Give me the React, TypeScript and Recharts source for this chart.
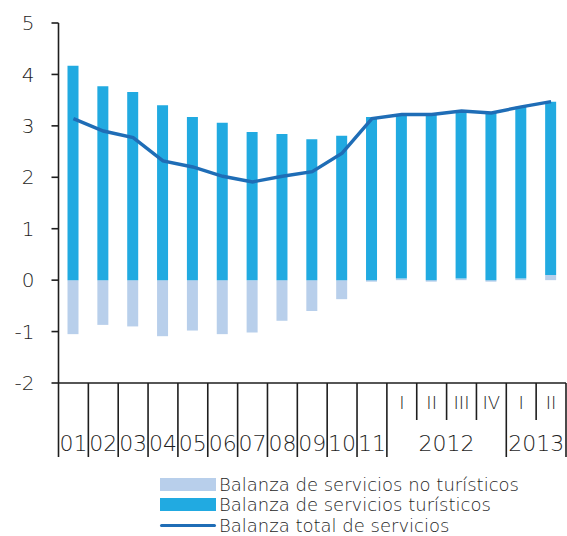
import React from 'react';
import { ComposedChart, Bar, Line, XAxis, YAxis } from 'recharts';

const periods = ['01', '02', '03', '04', '05', '06', '07', '08', '09', '10', '11', '2012 I', '2012 II', '2012 III', '2012 IV', '2013 I', '2013 II'];
const quarterLabels = ['', '', '', '', '', '', '', '', '', '', '', 'I', 'II', 'III', 'IV', 'I', 'II'];
const yearLabels = ['01', '02', '03', '04', '05', '06', '07', '08', '09', '10', '11', '2012', '2012', '2012', '2012', '2013', '2013'];
const turisticos = [4.17, 3.77, 3.66, 3.40, 3.17, 3.06, 2.88, 2.84, 2.74, 2.81, 3.17, 3.19, 3.24, 3.26, 3.27, 3.34, 3.37];
const noTuristicos = [-1.05, -0.87, -0.90, -1.09, -0.98, -1.05, -1.02, -0.79, -0.60, -0.37, -0.03, 0.03, -0.03, 0.03, -0.03, 0.03, 0.10];
const total = [3.14, 2.90, 2.77, 2.32, 2.20, 2.02, 1.91, 2.02, 2.11, 2.47, 3.14, 3.22, 3.22, 3.29, 3.25, 3.37, 3.47];
const yTicks = [-2, -1, 0, 1, 2, 3, 4, 5];

const W = 567;
const H = 536;
const X_AXIS_H = 153;
const MARGIN = { top: 23, right: 1, left: 0, bottom: 0 };
const Y_AXIS_W = 58.5;
const AXIS_Y = H - X_AXIS_H;
const BAND = (W - MARGIN.left - MARGIN.right - Y_AXIS_W) / periods.length;
const FONT = '"DejaVu Sans", sans-serif';
const INK = '#1e1e1e';

const C_NO = '#b8cfeb';
const C_TUR = '#21aae1';
const C_TOTAL = '#1f6db6';

const data = periods.map((p, i) => ({
  period: p,
  noTur: noTuristicos[i],
  tur: turisticos[i],
  total: total[i],
}));

const XTick = (props: any) => {
  const { x, index } = props;
  const left = x - BAND / 2;
  const isYearStart = index === 0 || yearLabels[index] !== yearLabels[index - 1];
  const longLen = 74;
  const shortLen = 37;
  let groupLen = 0;
  if (isYearStart) {
    while (index + groupLen < yearLabels.length && yearLabels[index + groupLen] === yearLabels[index]) groupLen++;
  }
  const last = index === periods.length - 1;
  return (
    <g>
      <line x1={left} x2={left} y1={AXIS_Y} y2={AXIS_Y + (isYearStart ? longLen : shortLen)} stroke={INK} strokeWidth={1.6} />
      {last && <line x1={left + BAND} x2={left + BAND} y1={AXIS_Y} y2={AXIS_Y + longLen} stroke={INK} strokeWidth={1.6} />}
      {quarterLabels[index] && (
        <text x={x} y={AXIS_Y + 26} textAnchor="middle" fontSize={18} fill={INK} fontFamily={FONT} fontWeight={200}>
          {quarterLabels[index]}
        </text>
      )}
      {isYearStart && (
        <text x={left + (groupLen * BAND) / 2} y={AXIS_Y + 68} textAnchor="middle" fontSize={22} fill={INK} fontFamily={FONT} fontWeight={200}>
          {yearLabels[index]}
        </text>
      )}
    </g>
  );
};

const legendItems = [
  { label: 'Balanza de servicios no turísticos', color: C_NO, kind: 'box' },
  { label: 'Balanza de servicios turísticos', color: C_TUR, kind: 'box' },
  { label: 'Balanza total de servicios', color: C_TOTAL, kind: 'line' },
];

export default function App() {
  return (
    <div style={{ position: 'absolute', left: 0, top: 0, width: W, height: H, background: '#fff', overflow: 'hidden' }}>
      <ComposedChart width={W} height={H} data={data} margin={MARGIN} stackOffset="sign" barCategoryGap={0}>
        <YAxis
          domain={[-2, 5]}
          ticks={yTicks}
          width={Y_AXIS_W}
          axisLine={{ stroke: INK, strokeWidth: 1.6 }}
          tickLine={{ stroke: INK, strokeWidth: 1.6 }}
          tickSize={7}
          tickMargin={17}
          tick={{ fontSize: 20, fill: INK, fontFamily: FONT, fontWeight: 200 }}
        />
        <XAxis
          dataKey="period"
          height={X_AXIS_H}
          axisLine={{ stroke: INK, strokeWidth: 1.6 }}
          tickLine={false}
          interval={0}
          tick={<XTick />}
        />
        <Bar dataKey="noTur" stackId="s" fill={C_NO} barSize={11} isAnimationActive={false} />
        <Bar dataKey="tur" stackId="s" fill={C_TUR} barSize={11} isAnimationActive={false} />
        <Line dataKey="total" stroke={C_TOTAL} strokeWidth={3.4} dot={false} isAnimationActive={false} />
      </ComposedChart>
      <div style={{ position: 'absolute', left: 160, top: 474, fontFamily: FONT, fontWeight: 200, fontSize: 18, color: INK }}>
        {legendItems.map((it) => (
          <div key={it.label} style={{ display: 'flex', alignItems: 'center', height: 20.5 }}>
            {it.kind === 'box' ? (
              <div style={{ width: 56, height: 13, background: it.color }} />
            ) : (
              <div style={{ width: 56, height: 3, background: it.color, borderRadius: 2 }} />
            )}
            <span style={{ marginLeft: 3, whiteSpace: 'nowrap', lineHeight: '19px' }}>{it.label}</span>
          </div>
        ))}
      </div>
    </div>
  );
}
